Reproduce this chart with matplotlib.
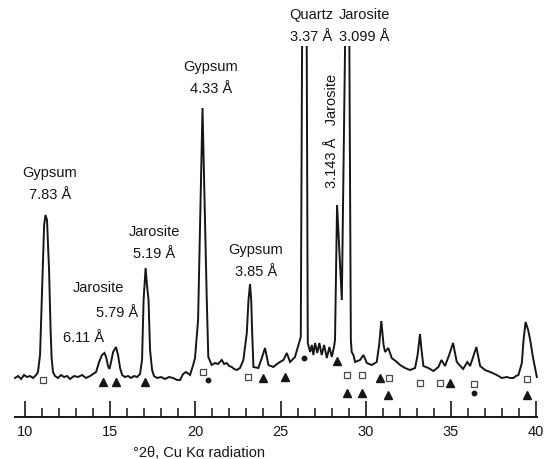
import matplotlib
matplotlib.use("Agg")
import matplotlib.pyplot as plt
from matplotlib.patches import Rectangle

plt.rcParams["font.family"] = ["Liberation Sans", "DejaVu Sans"]

# diffractogram trace (°2θ, relative intensity)
two_theta = [
    9.41, 9.59, 9.77, 9.94, 10.12, 10.29, 10.47, 10.65, 10.76, 10.88, 11.00, 11.12,
    11.20, 11.29, 11.41, 11.50, 11.56, 11.64, 11.76, 11.94, 12.11, 12.29, 12.47, 12.64,
    12.88, 13.11, 13.35, 13.58, 13.82, 13.99, 14.17, 14.35, 14.52, 14.66, 14.76, 14.87,
    14.96, 15.05, 15.17, 15.34, 15.46, 15.58, 15.70, 15.87, 16.05, 16.22, 16.40, 16.58,
    16.75, 16.87, 16.96, 17.08, 17.16, 17.25, 17.34, 17.46, 17.57, 17.75, 17.99, 18.22,
    18.46, 18.69, 18.93, 19.10, 19.28, 19.45, 19.69, 19.87, 19.98, 20.16, 20.28, 20.42,
    20.54, 20.67, 20.76, 20.96, 21.16, 21.33, 21.55, 21.69, 21.84, 21.98, 22.14, 22.27,
    22.43, 22.62, 22.82, 23.02, 23.12, 23.21, 23.28, 23.33, 23.41, 23.70, 23.90, 24.09,
    24.29, 24.58, 24.87, 25.17, 25.37, 25.56, 25.85, 26.05, 26.19, 26.42, 26.60, 26.74,
    26.84, 26.93, 27.03, 27.16, 27.28, 27.42, 27.56, 27.72, 27.87, 28.01, 28.14, 28.20,
    28.32, 28.60, 28.97, 29.13, 29.18, 29.28, 29.38, 29.67, 29.87, 30.07, 30.36, 30.65,
    30.79, 30.92, 31.05, 31.14, 31.33, 31.53, 31.83, 32.02, 32.31, 32.61, 32.90, 33.05,
    33.19, 33.28, 33.39, 33.68, 33.98, 34.27, 34.45, 34.66, 34.90, 35.13, 35.35, 35.72,
    35.97, 36.13, 36.31, 36.50, 36.72, 37.01, 37.31, 37.70, 37.99, 38.29, 38.48, 38.67,
    38.83, 38.97, 39.17, 39.27, 39.39, 39.54, 39.65, 39.83, 40.05,
]
intensity = [
    -1, 1, -2, 2, 0, 1, -1, 2, 5, 22, 87, 152,
    162, 157, 107, 47, 19, 5, 1, -1, 2, 0, 1, -2,
    1, 0, 2, -1, 1, 3, 5, 15, 22, 24, 20, 11,
    8, 15, 25, 30, 22, 9, 2, 0, 1, -1, 1, 0,
    3, 17, 77, 109, 92, 77, 27, 7, 1, -1, 0, -2,
    0, -1, -3, -3, 3, 5, 2, 12, 19, 57, 157, 269,
    177, 77, 20, 12, 14, 13, 17, 13, 14, 11, 10, 8,
    7, 9, 17, 44, 77, 93, 77, 47, 10, 9, 19, 29,
    12, 10, 14, 17, 24, 15, 20, 32, 40, 920, 34, 25,
    32, 22, 34, 24, 34, 22, 32, 19, 30, 20, 30, 37,
    172, 77, 571, 37, 25, 22, 15, 17, 22, 14, 12, 15,
    32, 56, 32, 25, 29, 19, 15, 12, 9, 7, 9, 22,
    43, 27, 11, 9, 6, 10, 17, 11, 22, 34, 15, 8,
    15, 11, 20, 30, 11, 7, 5, 2, -1, 0, -1, -1,
    1, 2, 14, 37, 55, 47, 38, 19, 0,
]

# phase markers under the trace (°2θ, level)
gypsum_2theta = [11.08, 20.43, 23.08, 28.89, 29.77, 31.37, 33.20, 34.37, 36.37, 39.46]
gypsum_level = [-3, 5, 0, 2, 2, -1, -6, -6, -7, -2]
jarosite_2theta = [14.56, 15.34, 17.05, 24.00, 25.27, 28.30, 28.89, 29.77, 30.85,
                   31.33, 34.96, 39.46]
jarosite_level = [-5, -5, -5, -1, 0, 16, -16, -16, -1, -18, -6, -18]
quartz_2theta = [20.73, 26.40, 36.37]
quartz_level = [-3, 19, -16]

# peak labels
minerals = ["Gypsum", "Jarosite", "Jarosite", "Gypsum", "Gypsum", "Quartz", "Jarosite"]
d_spacings = ["7.83", "5.79", "5.19", "4.33", "3.85", "3.37", "3.099"]
label_x = [11.45, 14.29, 17.60, 20.92, 23.56, 26.80, 29.93]
label_y = [204, 89, 145, 310, 127, 362, 362]

fig = plt.figure(figsize=(5.55, 4.59), dpi=100)
ax = fig.add_axes([15 / 555, 42 / 459, 522 / 555, 417 / 459])
ax.set_xlim(9.41, 40.06)
ax.set_ylim(-40, 377)

ink = "#161616"
line, = ax.plot(two_theta, intensity, color=ink, lw=1.4, solid_joinstyle="miter")
clip = Rectangle((9.0, -40), 32, 371, transform=ax.transData)
line.set_clip_path(clip)

ax.plot(gypsum_2theta, gypsum_level, ls="none", marker="s", ms=4.6, mfc="white",
        mec="#4a4a4a", mew=0.9, clip_on=False)
ax.plot(jarosite_2theta, jarosite_level, ls="none", marker="^", ms=5.5, color=ink,
        clip_on=False)
ax.plot(quartz_2theta, quartz_level, ls="none", marker="o", ms=3.2, color=ink,
        clip_on=False)

fs = 10.5
for name, d, x, y in zip(minerals, d_spacings, label_x, label_y):
    if name == "Jarosite" and d == "5.79":
        ax.text(x, y, name, ha="center", va="center", fontsize=fs, color=ink)
        ax.text(15.40, y - 25, f"{d} Å", ha="center", va="center", fontsize=fs, color=ink)
        continue
    ax.text(x, y, name, ha="center", va="center", fontsize=fs, color=ink)
    ax.text(x, y - 22, f"{d} Å", ha="center", va="center", fontsize=fs, color=ink)

ax.text(13.41, 39, "6.11 Å", ha="center", va="center", fontsize=fs, color=ink)
ax.text(28.03, 246, "3.143 Å   Jarosite", ha="center", va="center", rotation=90,
        fontsize=fs, color=ink)

for side in ["top", "left", "right"]:
    ax.spines[side].set_visible(False)
ax.spines["bottom"].set_linewidth(1.4)
ax.spines["bottom"].set_color(ink)
ax.set_yticks([])
ax.set_xticks(range(10, 41, 5))
ax.set_xticks(range(10, 41), minor=True)
ax.tick_params(axis="x", which="major", direction="in", length=11.5, width=1.2,
               color=ink, labelsize=10.5, pad=6, labelcolor=ink)
ax.tick_params(axis="x", which="minor", direction="in", length=6.5, width=1.1, color=ink)
ax.patch.set_visible(False)

ax.text(16.34, -76, "°2θ, Cu Kα radiation", ha="left", va="center", fontsize=10.5,
        color=ink, clip_on=False)

fig.savefig("out.png", dpi=100)
